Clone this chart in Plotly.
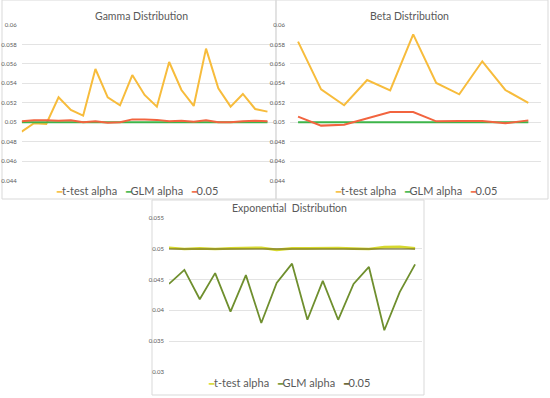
import plotly.graph_objects as go

# ---------------- data ----------------
gamma_x = list(range(1, 22))
gamma_ttest = [0.04904, 0.04990, 0.04983, 0.05257, 0.05127, 0.05068, 0.05548, 0.05257,
               0.05175, 0.05486, 0.05281, 0.05161, 0.05620, 0.05332, 0.05168, 0.05757,
               0.05349, 0.05161, 0.05291, 0.05137, 0.05110]
gamma_glm = [0.05] * 21
gamma_ref = [0.05010, 0.05020, 0.05020, 0.05015, 0.05020, 0.05000, 0.05010, 0.04995,
             0.05000, 0.05030, 0.05030, 0.05025, 0.05010, 0.05015, 0.05005, 0.05020,
             0.05000, 0.05000, 0.05010, 0.05015, 0.05010]

beta_x = list(range(1, 12))
beta_ttest = [0.05829, 0.05339, 0.05175, 0.05435, 0.05329, 0.05904, 0.05404, 0.05288,
              0.05627, 0.05332, 0.05199]
beta_glm = [0.05] * 11
beta_ref = [0.05058, 0.04966, 0.04976, 0.05038, 0.05106, 0.05106, 0.05010, 0.05014,
            0.05014, 0.04990, 0.05020]

exp_x = list(range(1, 18))
exp_ttest = [0.05020, 0.05000, 0.05010, 0.05000, 0.05010, 0.05015, 0.05020, 0.04985,
             0.05010, 0.05010, 0.05015, 0.05015, 0.05005, 0.05000, 0.05030, 0.05035,
             0.05010]
exp_glm = [0.04431, 0.04660, 0.04181, 0.04606, 0.03979, 0.04574, 0.03793, 0.04447,
           0.04761, 0.03846, 0.04479, 0.03846, 0.04431, 0.04707, 0.03676, 0.04298,
           0.04750]
exp_ref = [0.05] * 17

series_names = ["t-test alpha", "GLM alpha", "0.05"]
titles = ["Gamma Distribution", "Beta Distribution", "Exponential  Distribution"]

# ---------------- style ----------------
W, H = 550, 398
FONT = "Lato, 'Open Sans', sans-serif"
TXT = "#595959"
GRID = "#E3E3E3"
BORDER = "#D9D9D9"
C1 = ["#F7BC3C", "#3DB54A", "#F2643F"]
C3 = ["#D6D82E", "#6F8F2E", "#5E5A26"]
W1 = [2, 2, 2]
W3 = [2.6, 1.8, 1.1]


def px(x):
    return x / W


def py(y):
    return 1 - y / H


fig = go.Figure()

panels = [
    (gamma_x, [gamma_ttest, gamma_glm, gamma_ref], C1, W1, "x", "y"),
    (beta_x, [beta_ttest, beta_glm, beta_ref], C1, W1, "x2", "y2"),
    (exp_x, [exp_ttest, exp_glm, exp_ref], C3, W3, "x3", "y3"),
]
for xs, ys_list, cols, wids, xa, ya in panels:
    for name, ys, c, w in zip(series_names, ys_list, cols, wids):
        fig.add_trace(go.Scatter(x=xs, y=ys, mode="lines", name=name,
                                 line=dict(color=c, width=w),
                                 xaxis=xa, yaxis=ya, showlegend=False))

common_x = dict(showgrid=False, zeroline=False, showticklabels=False, showline=False,
                ticks="", automargin=False)
common_y = dict(showgrid=True, gridcolor=GRID, gridwidth=1, zeroline=False, showline=False,
                ticks="", automargin=False, ticklabelstandoff=4,
                tickfont=dict(family=FONT, size=6, color=TXT))

fig.update_layout(
    width=W, height=H,
    margin=dict(l=0, r=0, t=0, b=0),
    paper_bgcolor="white", plot_bgcolor="white",
    font=dict(family=FONT, color=TXT),
    xaxis=dict(domain=[px(21.7), px(273)], range=[1, 21.45], anchor="y", **common_x),
    yaxis=dict(domain=[py(180.7), py(25)], range=[0.044, 0.06], dtick=0.002, tick0=0.044,
               anchor="x", **common_y),
    xaxis2=dict(domain=[px(290), px(541)], range=[0.65, 11.55], anchor="y2", **common_x),
    yaxis2=dict(domain=[py(180.7), py(25)], range=[0.044, 0.06], dtick=0.002, tick0=0.044,
                anchor="x2", **common_y),
    xaxis3=dict(domain=[px(169), px(422)], range=[1, 17.45], anchor="y3", **common_x),
    yaxis3=dict(domain=[py(371.7), py(218.3)], range=[0.03, 0.055], dtick=0.005, tick0=0.03,
                anchor="x3", **common_y),
    showlegend=False,
)

# panel titles
for t, (cx, cy) in zip(titles, [(141.5, 16), (409, 16), (289, 208)]):
    fig.add_annotation(text=t, x=px(cx), y=py(cy), xref="paper", yref="paper",
                       showarrow=False, xanchor="center", yanchor="middle",
                       font=dict(family=FONT, size=10.5, color=TXT))

# legends (one per panel, colour key as dashes in the series colour)
def legend_text(cols):
    parts = []
    for name, c in zip(series_names, cols):
        parts.append("<span style='color:%s;font-size:9px'>━</span>%s" % (c, name))
    return "   ".join(parts)


for cols, (cx, cy) in [(C1, (137, 190.7)), (C1, (416, 190.7)), (C3, (289, 382.7))]:
    fig.add_annotation(text=legend_text(cols), x=px(cx), y=py(cy), xref="paper", yref="paper",
                       showarrow=False, xanchor="center", yanchor="middle",
                       font=dict(family=FONT, size=11, color=TXT))

# panel borders
for x0, y0, x1, y1 in [(2, 0, 276, 199), (276, 0, 548, 199), (152, 200, 424, 395)]:
    fig.add_shape(type="rect", xref="paper", yref="paper",
                  x0=px(x0), x1=px(x1), y0=py(y1), y1=py(y0),
                  line=dict(color=BORDER, width=1), fillcolor="rgba(0,0,0,0)", layer="below")

fig.write_html("out.html", config={"displayModeBar": False},
               post_script="document.body.style.margin='0';document.body.style.padding='0';")
